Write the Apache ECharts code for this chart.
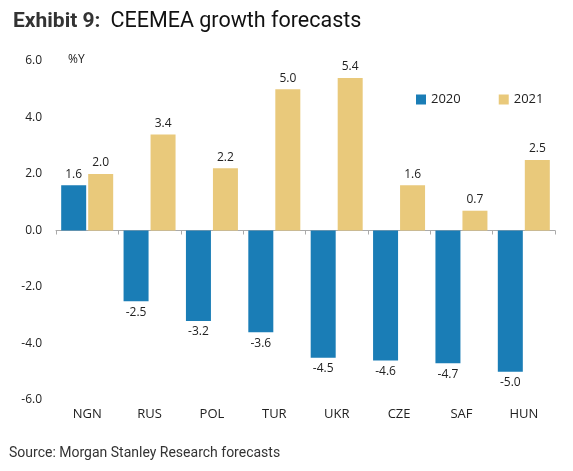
<!DOCTYPE html>
<html><head><meta charset="utf-8">
<script src="https://cdn.jsdelivr.net/npm/echarts@6/dist/echarts.min.js"></script>
<style>html,body{margin:0;padding:0;background:#fff}#c{width:573px;height:471px}</style>
</head><body><div id="c"></div>
<script>
const categories = ['NGN','RUS','POL','TUR','UKR','CZE','SAF','HUN'];
const values2020 = [1.6,-2.5,-3.2,-3.6,-4.5,-4.6,-4.7,-5.0];
const values2021 = [2.0,3.4,2.2,5.0,5.4,1.6,0.7,2.5];

const chart = echarts.init(document.getElementById('c'));
const lbl = {show:true, position:'top', formatter:p=>p.value.toFixed(1), color:'#222', fontSize:12, fontFamily:'Open Sans'};
chart.setOption({
  animation:false,
  title:{text:'{b|Exhibit 9:}  {r|CEEMEA growth forecasts}', left:8, top:6,
    textStyle:{fontWeight:'normal', rich:{b:{fontFamily:'Roboto',fontWeight:'bold',fontSize:21,color:'#333'},r:{fontFamily:'Roboto',fontWeight:'normal',fontSize:21.5,color:'#111'}}}},
  legend:{data:['2020','2021'], left:411, top:88, itemWidth:10, itemHeight:10, itemGap:38, icon:'rect',
    textStyle:{fontFamily:'Open Sans',fontSize:13,color:'#222'}},
  graphic:[
    {type:'text', left:68, top:54, style:{text:'%Y', fontFamily:'Open Sans', fontSize:12, fill:'#222'}},
    {type:'text', left:9, top:446, style:{text:'Source: Morgan Stanley Research forecasts', fontFamily:'Roboto', fontSize:14, fill:'#333'}}
  ],
  grid:{left:56, right:18, top:61, bottom:71},
  xAxis:[
    {type:'category', data:categories, axisLine:{onZero:true, lineStyle:{color:'#aaa'}},
      axisTick:{show:true, length:4, lineStyle:{color:'#aaa'}}, axisLabel:{show:false}},
    {type:'category', data:categories, position:'bottom', axisLine:{show:false, onZero:false}, axisTick:{show:false},
      axisLabel:{show:true, margin:8, fontFamily:'Open Sans', fontSize:13, color:'#222'}}
  ],
  yAxis:{type:'value', min:-6, max:6, interval:2, splitLine:{show:false}, axisLine:{show:false}, axisTick:{show:false},
    axisLabel:{formatter:v=>v.toFixed(1), fontFamily:'Open Sans', fontSize:12, color:'#222', margin:14}},
  series:[
    {name:'2020', type:'bar', data:values2020.map(v=>({value:v, label:{position:v<0?'bottom':'top'}})), barWidth:25, barGap:'8%',
      itemStyle:{color:'#1a7db6'}, label:lbl},
    {name:'2021', type:'bar', data:values2021, barWidth:25, barGap:'8%', itemStyle:{color:'#e9c97b'}, label:lbl}
  ]
});
</script></body></html>
